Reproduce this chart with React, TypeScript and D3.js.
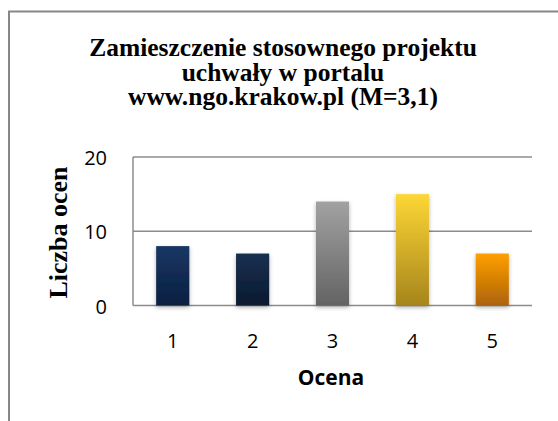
import React from "react";
import * as d3 from "d3";

const titleLines = ["Zamieszczenie stosownego projektu", "uchwały w portalu", "www.ngo.krakow.pl (M=3,1)"];
const categories = ["1", "2", "3", "4", "5"];
const values = [8, 7, 14, 15, 7];
const yTicks = [0, 10, 20];
const barTop = ["#173764", "#173050", "#a2a2a2", "#fdd735", "#ff9f00"];
const barBottom = ["#0b1f40", "#0c1a2f", "#636363", "#a6851c", "#ad630a"];
const xTitle = "Ocena";
const yTitle = "Liczba ocen";

export default function App() {
  const W = 558, H = 421;
  const left = 133, right = 532, top = 157, bottom = 305.5;
  const x = d3.scaleBand<string>().domain(categories).range([left, right]).paddingInner(0.585).paddingOuter(0.29);
  const y = d3.scaleLinear().domain([0, 20]).range([bottom, top]);
  const sans = "'Open Sans', sans-serif";
  const serif = "'Liberation Serif', 'Times New Roman', serif";
  return (
    <svg width={W} height={H} style={{ position: "absolute", left: 0, top: 0, background: "#fff" }}>
      <defs>
        {categories.map((c, i) => (
          <linearGradient key={c} id={`g${i}`} x1="0" y1="0" x2="0" y2="1">
            <stop offset="0%" stopColor={barTop[i]} />
            <stop offset="100%" stopColor={barBottom[i]} />
          </linearGradient>
        ))}
        <filter id="sh" x="-30%" y="-10%" width="160%" height="130%">
          <feDropShadow dx="0" dy="2" stdDeviation="2" floodColor="#000" floodOpacity="0.3" />
        </filter>
      </defs>
      <rect x={9} y={11.5} width={600} height={500} fill="#fff" stroke="#878787" strokeWidth={2} />
      <g fontFamily={serif} fontWeight="bold" fontSize={25.5} textAnchor="middle" fill="#000">
        {titleLines.map((t, i) => (
          <text key={i} x={283} y={56 + i * 24.5}>{t}</text>
        ))}
      </g>
      {yTicks.map((t) => (
        <line key={t} x1={left} x2={right} y1={y(t)} y2={y(t)} stroke="#8c8c8c" strokeWidth={1.5} />
      ))}
      <line x1={left} x2={left} y1={top} y2={bottom} stroke="#8c8c8c" strokeWidth={1.5} />
      {categories.map((c, i) => (
        <rect key={c} x={x(c)} y={y(values[i])} width={x.bandwidth()} height={bottom - y(values[i])} fill={`url(#g${i})`} filter="url(#sh)" />
      ))}
      <g fontFamily={sans} fontSize={20} fill="#000">
        {yTicks.map((t) => (
          <text key={t} x={107} y={y(t) + 8} textAnchor="end">{t}</text>
        ))}
        {categories.map((c) => (
          <text key={c} x={(x(c) as number) + x.bandwidth() / 2} y={348} textAnchor="middle">{c}</text>
        ))}
      </g>
      <text x={331} y={385} textAnchor="middle" fontFamily={sans} fontWeight="bold" fontSize={21}>{xTitle}</text>
      <text transform="translate(67,232.5) rotate(-90)" textAnchor="middle" fontFamily={serif} fontWeight="bold" fontSize={26}>{yTitle}</text>
    </svg>
  );
}
